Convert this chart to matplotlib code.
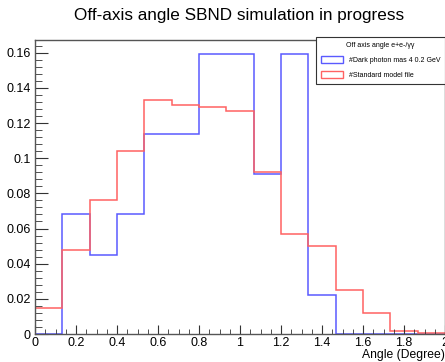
import numpy as np
import matplotlib.pyplot as plt
from matplotlib.patches import Patch
from matplotlib.ticker import MultipleLocator

plt.rcParams['font.family'] = ['Liberation Sans', 'DejaVu Sans']

# 15 bins from 0 to 2 degrees
edges = np.linspace(0, 2, 16)
dark_photon = [0.0, 0.068, 0.045, 0.068, 0.114, 0.114, 0.159, 0.159,
               0.091, 0.159, 0.022, 0.0, 0.0, 0.0, 0.0]
standard_model = [0.015, 0.048, 0.076, 0.104, 0.133, 0.130, 0.129, 0.127,
                  0.092, 0.057, 0.050, 0.025, 0.012, 0.0015, 0.0008]
xlabels = ['0', '0.2', '0.4', '0.6', '0.8', '1', '1.2', '1.4', '1.6', '1.8', '2']
ylabels = ['0', '0.02', '0.04', '0.06', '0.08', '0.1', '0.12', '0.14', '0.16']

fig = plt.figure(figsize=(4.45, 3.62), dpi=100)
ax = fig.add_axes([0.0787, 0.0773, 0.9213, 0.8122])

blue = '#5a5aff'
red = '#ff6262'
ax.stairs(dark_photon, edges, color=blue, lw=1.1)
ax.stairs(standard_model, edges, color=red, lw=1.1)

ax.set_xlim(0, 2)
ax.set_ylim(0, 0.1672)
ax.xaxis.set_minor_locator(MultipleLocator(0.05))
ax.yaxis.set_minor_locator(MultipleLocator(0.004))
ax.set_xticks(np.arange(0, 2.01, 0.2))
ax.set_xticklabels(xlabels)
ax.set_yticks(np.arange(0, 0.161, 0.02))
ax.set_yticklabels(ylabels)
ax.tick_params(which='both', direction='in', labelsize=9, color='#333333')
ax.tick_params(axis='y', which='major', length=9.5, pad=3)
ax.tick_params(axis='y', which='minor', length=5)
ax.tick_params(axis='x', which='major', length=6.5, pad=2)
ax.tick_params(axis='x', which='minor', length=3.5)
for s in ax.spines.values():
    s.set_color('#555555')
    s.set_linewidth(1)

ax.set_xlabel('Angle (Degree)', fontsize=8.7, loc='right', labelpad=0)
fig.text(0.537, 0.956, 'Off-axis angle SBND simulation in progress',
         ha='center', va='center', fontsize=12.3)

handles = [Patch(facecolor='none', edgecolor=blue, lw=1),
           Patch(facecolor='none', edgecolor=red, lw=1)]
leg = ax.legend(handles, ['#Dark photon mas 4 0.2 GeV', '#Standard model file'],
                title='Off axis angle e+e-/\u03b3\u03b3', loc='upper right',
                bbox_to_anchor=(1.0, 1.01), fontsize=5, title_fontsize=5,
                fancybox=False, edgecolor='#333333', framealpha=1,
                borderaxespad=0, handlelength=3.1, handleheight=1.3,
                labelspacing=1.0, borderpad=0.7, handletextpad=0.85)
leg.get_frame().set_linewidth(0.8)

fig.savefig('out.png', dpi=100)
